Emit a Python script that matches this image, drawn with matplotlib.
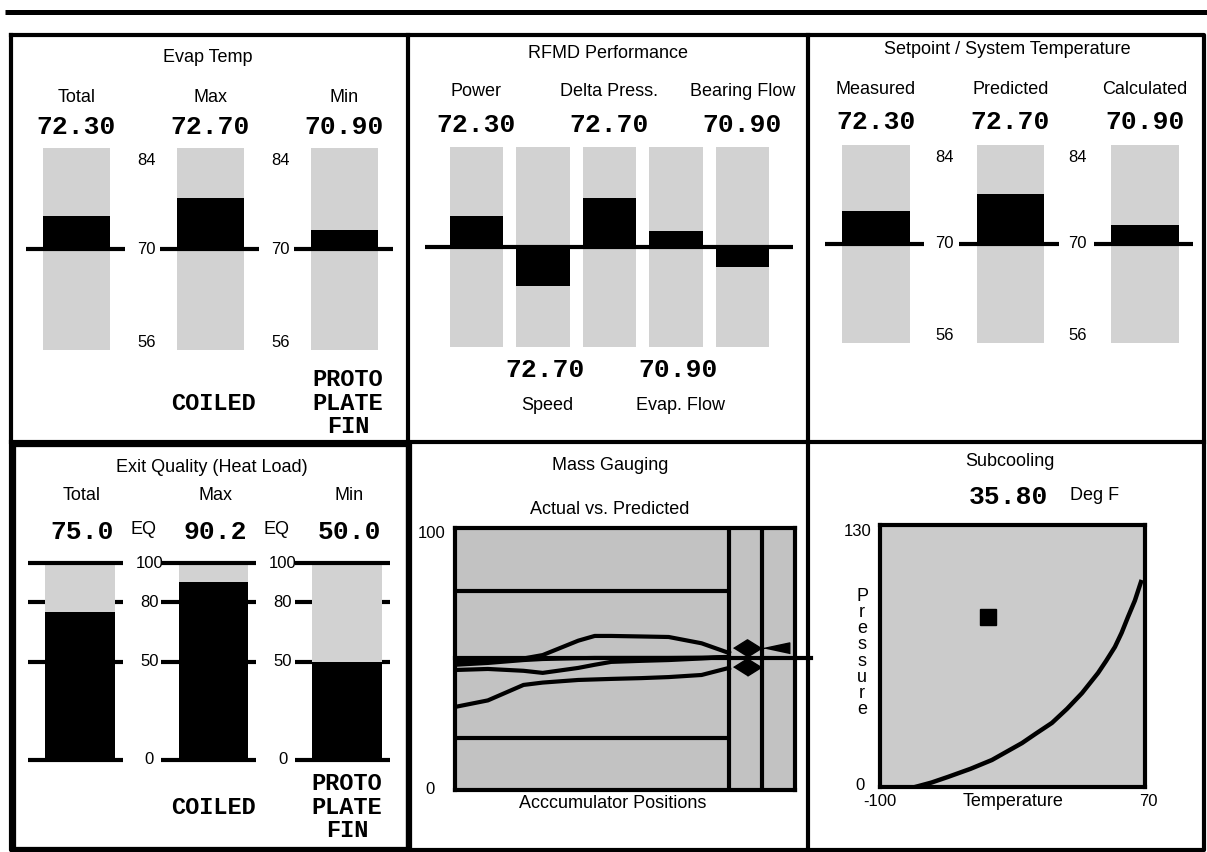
"""
Cryogenic test-bed status display: six instrument panels on one sheet.
"""

import matplotlib
matplotlib.use("Agg")
import matplotlib.pyplot as plt

W, H = 1207, 852
SANS = "Liberation Sans"
MONO = "Liberation Mono"
SHADE = "#d2d2d2"
MASS_SHADE = "#c2c2c2"
SUB_SHADE = "#cbcbcb"

# --- Evap Temp (top left) ---
evap_labels = ["Total", "Max", "Min"]
evap_readouts = ["72.30", "72.70", "70.90"]
evap_levels = [74.6, 77.1, 72.6]

# --- RFMD Performance (top middle), gauges left to right ---
rfmd_labels = ["Power", "Speed", "Delta Press.", "Evap. Flow", "Bearing Flow"]
rfmd_readouts = ["72.30", "72.70", "72.70", "70.90", "70.90"]
rfmd_levels = [74.3, 64.5, 76.9, 72.2, 67.2]

# --- Setpoint / System Temperature (top right) ---
setpoint_labels = ["Measured", "Predicted", "Calculated"]
setpoint_readouts = ["72.30", "72.70", "70.90"]
setpoint_levels = [74.7, 77.1, 72.7]

temp_low, temp_ref, temp_high = 56, 70, 84

# --- Exit Quality (bottom left) ---
exit_labels = ["Total", "Max", "Min"]
exit_values = [75.0, 90.2, 50.0]
exit_ticks = [100, 80, 50, 0]

# --- Mass Gauging (bottom middle) ---
acc_pos = [0, 12, 25, 32, 45, 51, 57, 68, 78, 90, 100]
mass_curve_a = [48.9, 49.3, 50.2, 51.5, 57.0, 58.8, 58.8, 58.6, 58.4, 56.0, 52.3]
mass_curve_b = [45.8, 46.2, 45.5, 44.7, 46.6, 47.8, 48.9, 49.3, 49.6, 50.2, 50.8]
mass_curve_c = [47.8, 48.5, 49.6, 50.0, 50.3, 50.4, 50.4, 50.4, 50.4, 50.5, 50.8]
mass_curve_d = [31.7, 34.2, 40.1, 41.0, 42.0, 42.2, 42.4, 42.7, 43.1, 43.9, 46.6]
mass_predicted = 50.4
mass_limits = [76, 20]
mass_dividers = [100, 112]
diamond_pos = 106.5
diamond_levels = [54.2, 47.0]
pointer_pos, pointer_level = 118.6, 54.2

# --- Subcooling (bottom right) ---
sat_temp = [-77.5, -67, -56.4, -42, -28.2, -8.9, 0, 10.3, 20, 29.6, 39.9, 45, 50.7, 55, 59.1, 63.5, 67.4]
sat_press = [0.0, 2.2, 5.0, 9.0, 13.4, 21.8, 26.5, 31.8, 38.8, 46.6, 56.6, 62.5, 69.5, 76.5, 84.4, 92.5, 101.7]
op_temp, op_press = -30.7, 84.3
subcool_readout = "35.80"


fig = plt.figure(figsize=(W / 100, H / 100), dpi=100)
frame = fig.add_axes([0, 0, 1, 1])
frame.set_xlim(0, W)
frame.set_ylim(H, 0)
frame.axis("off")


def px_axes(x0, y0, x1, y1):
    return fig.add_axes([x0 / W, 1 - y1 / H, (x1 - x0) / W, (y1 - y0) / H])


def gauge_axes(x0, y0, x1, y1, c0, step, ylim):
    """Axes whose x unit is one gauge, gauge 0 centred at pixel c0."""
    ax = px_axes(x0, y0, x1, y1)
    ax.set_xlim((x0 - c0) / step, (x1 - c0) / step)
    ax.set_ylim(*ylim)
    ax.axis("off")
    return ax


def label(x, y, s, size=13, **kw):
    frame.text(x, y, s, ha="center", va="center", fontsize=size, family=SANS, **kw)


def readout(x, y, s, size=19, **kw):
    frame.text(x, y, s, ha="center", va="center", fontsize=size, family=MONO,
               fontweight="bold", **kw)


def temp_gauges(ax, levels, width):
    for i, v in enumerate(levels):
        ax.bar(i, temp_high - temp_low, bottom=temp_low, width=width, color=SHADE, zorder=1)
        ax.bar(i, v - temp_ref, bottom=temp_ref, width=width, color="black", zorder=2)


def temp_scale_labels(ax, positions):
    for p in positions:
        ax.text(p, temp_high - 1.7, str(temp_high), ha="center", va="center", fontsize=12, family=SANS)
        ax.text(p, temp_ref, str(temp_ref), ha="center", va="center", fontsize=12, family=SANS)
        ax.text(p, temp_low + 1, str(temp_low), ha="center", va="center", fontsize=12, family=SANS)


# ---------------- borders ----------------
frame.plot([5, W], [12, 12], color="black", lw=3.6, solid_capstyle="butt")
frame.plot([11, 1204, 1204, 11, 11], [35, 35, 850, 850, 35], color="black", lw=3)
frame.plot([408, 408], [35, 850], color="black", lw=3)
frame.plot([808, 808], [35, 850], color="black", lw=3)
frame.plot([11, 1204], [442, 442], color="black", lw=3)
frame.plot([13, 409, 409, 13, 13], [444, 444, 850, 850, 444], color="black", lw=4.5)

# ---------------- Evap Temp ----------------
c0, step = 76.5, 134
ax = gauge_axes(14, 148, 405, 350, c0, step, (temp_low, temp_high))
temp_gauges(ax, evap_levels, 0.5)
for i in range(len(evap_levels)):
    ax.hlines(temp_ref, i - 0.38, i + 0.36, color="black", lw=3, zorder=3)
temp_scale_labels(ax, [0.52, 1.52])
label(208, 57, "Evap Temp")
for i, (lab, val) in enumerate(zip(evap_labels, evap_readouts)):
    label(c0 + step * i, 97, lab)
    readout(c0 + step * i, 127, val)
readout(213, 403, "COILED", size=17)
readout(348, 403, "PROTO\nPLATE\nFIN", size=17, linespacing=1.05)

# ---------------- RFMD Performance ----------------
c0, step = 476.5, 66.5
ax = gauge_axes(412, 147, 805, 347, c0, step, (temp_low, temp_high))
temp_gauges(ax, rfmd_levels, 0.8)
ax.hlines(temp_ref, -0.77, 4.76, color="black", lw=3, zorder=3)
label(608, 53, "RFMD Performance")
for i, (lab, val) in enumerate(zip(rfmd_labels, rfmd_readouts)):
    x = c0 + step * i
    if i % 2 == 0:
        label(x, 92, lab)
        readout(x, 125, val)
    else:
        readout(x + 2, 370, val)
        label(x + 4, 405, lab)

# ---------------- Setpoint / System Temperature ----------------
c0, step = 876, 134.5
ax = gauge_axes(812, 145, 1202, 343, c0, step, (temp_low, temp_high))
temp_gauges(ax, setpoint_levels, 0.5)
for i in range(len(setpoint_levels)):
    ax.hlines(temp_ref, i - 0.38, i + 0.36, color="black", lw=3, zorder=3)
temp_scale_labels(ax, [0.51, 1.5])
label(1007, 50, "Setpoint / System Temperature")
for i, (lab, val) in enumerate(zip(setpoint_labels, setpoint_readouts)):
    label(c0 + step * i, 89, lab)
    readout(c0 + step * i, 122, val)

# ---------------- Exit Quality ----------------
c0, step = 80, 133.5
ax = gauge_axes(16, 563, 405, 760, c0, step, (0, 100))
for i, v in enumerate(exit_values):
    ax.hlines([80, 50], i - 0.39, i + 0.32, color="black", lw=3, zorder=1)
    ax.bar(i, 100, width=0.52, color=SHADE, zorder=2)
    ax.bar(i, v, width=0.52, color="black", zorder=3)
    ax.hlines([100, 0], i - 0.39, i + 0.32, color="black", lw=3, zorder=4, clip_on=False)
for p in (0.52, 1.52):
    for t in exit_ticks:
        ax.text(p, t, str(t), ha="center", va="center", fontsize=12, family=SANS)
label(212, 468, "Exit Quality (Heat Load)")
for i, (lab, val) in enumerate(zip(exit_labels, exit_values)):
    label(c0 + step * i + 2, 495, lab)
    readout(c0 + step * i + 2, 532, f"{val:.1f}")
for i in (0, 1):
    label(c0 + step * i + 63, 530, "EQ")
readout(213, 808, "COILED", size=17)
readout(347, 807, "PROTO\nPLATE\nFIN", size=17, linespacing=1.05)

# ---------------- Mass Gauging ----------------
ax = px_axes(455, 528, 795, 790)
ax.set_xlim(0, 124.1)
ax.set_ylim(0, 100)
ax.set_facecolor(MASS_SHADE)
ax.set_xticks([])
ax.set_yticks([])
for s in ax.spines.values():
    s.set_linewidth(3)
ax.hlines(mass_limits, 0, mass_dividers[0], color="black", lw=3)
for d in mass_dividers:
    ax.axvline(d, color="black", lw=3)
ax.plot([0, 130], [mass_predicted, mass_predicted], color="black", lw=3, clip_on=False)
for curve in (mass_curve_a, mass_curve_b, mass_curve_c, mass_curve_d):
    ax.plot(acc_pos, curve, color="black", lw=3, solid_joinstyle="round")
diamond = [(-1.6, 0), (0, 1), (1.6, 0), (0, -1)]
ax.plot([diamond_pos] * len(diamond_levels), diamond_levels, ls="none",
        marker=diamond, ms=20, color="black")
ax.plot(pointer_pos, pointer_level, ls="none", marker=[(-1.8, 0), (1, 0.6), (1, -0.6)],
        ms=24, color="black")
label(610, 465, "Mass Gauging")
label(610, 510, "Actual vs. Predicted")
label(432, 533, "100", size=12)
label(430, 789, "0", size=12)
label(613, 804, "Acccumulator Positions")

# ---------------- Subcooling ----------------
ax = px_axes(880, 525, 1145, 787)
ax.set_xlim(-100, 70)
ax.set_ylim(0, 130)
ax.set_facecolor(SUB_SHADE)
ax.set_xticks([])
ax.set_yticks([])
for s in ax.spines.values():
    s.set_linewidth(3)
ax.plot(sat_temp, sat_press, color="black", lw=3.2, solid_joinstyle="round")
ax.plot(op_temp, op_press, ls="none", marker="s", ms=12, color="black")
label(1010, 462, "Subcooling")
readout(1008, 497, subcool_readout)
label(1095, 496, "Deg F")
label(858, 532, "130", size=12)
label(860, 785, "0", size=12)
label(880, 802, "-100", size=12)
label(1148, 802, "70", size=12)
label(1013, 802, "Temperature")
label(862, 653, "P\nr\ne\ns\ns\nu\nr\ne", linespacing=0.93)

fig.savefig("out.png", dpi=100)
